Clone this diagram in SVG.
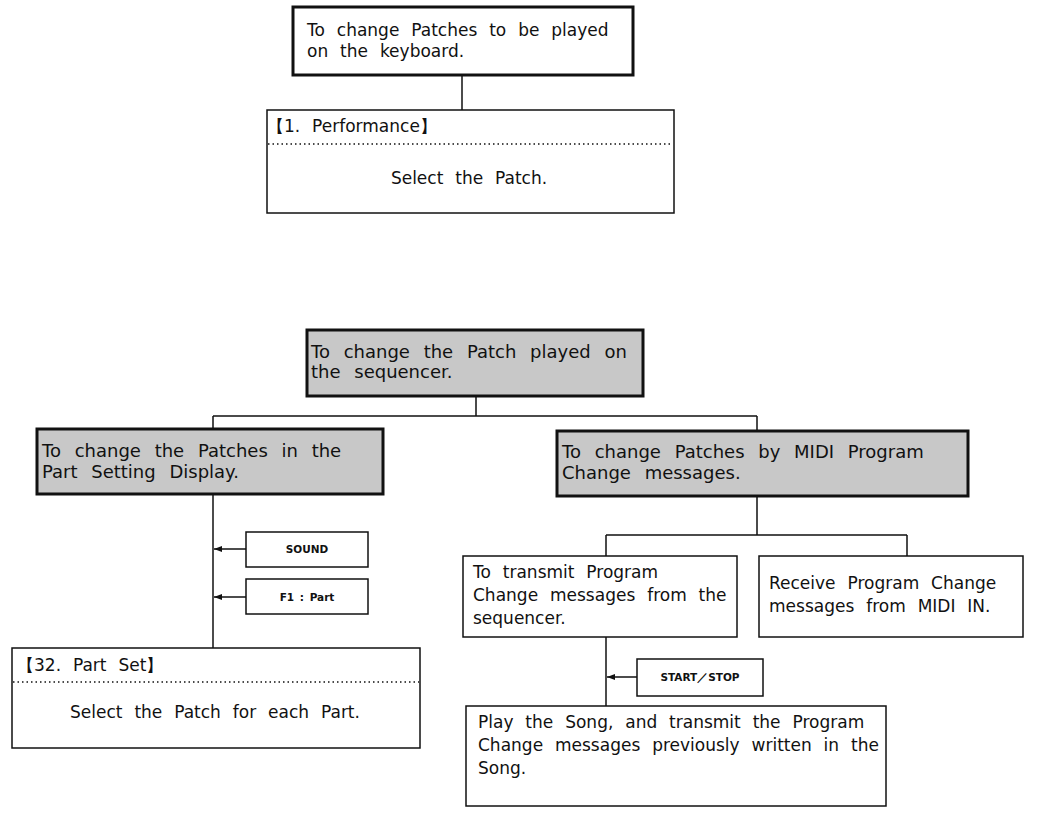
<svg xmlns="http://www.w3.org/2000/svg" width="1043" height="813" viewBox="0 0 1043 813">
<style>
text{font-family:"DejaVu Sans","Liberation Sans",Arial,sans-serif;fill:#111;}
.t{font-size:17px;word-spacing:6.5px;}
.g{font-size:18px;word-spacing:8px;}
.b{font-size:10.5px;font-weight:bold;}
.box{fill:#fff;stroke:#111;stroke-width:1.5;}
.thick{fill:#fff;stroke:#111;stroke-width:3;}
.gray{fill:#c8c8c8;stroke:#111;stroke-width:3;}
.dot{stroke:#111;stroke-width:1.5;stroke-dasharray:1.5 3;fill:none;}
.ln{stroke:#111;stroke-width:1.5;fill:none;}
</style>
<defs>
<marker id="ah" markerWidth="8" markerHeight="6" refX="8" refY="3" orient="auto" markerUnits="userSpaceOnUse">
<path d="M8,3 L0,0 L0,6 Z" fill="#111"/>
</marker>
</defs>
<g id="connectors">
<path class="ln" d="M462,75 V110"/>
<path class="ln" d="M476,396 V416 M213,416 H757 M213,416 V429 M757,416 V431"/>
<path class="ln" d="M213,494 V648"/>
<path class="ln" d="M246,549 H214" marker-end="url(#ah)"/>
<path class="ln" d="M246,597 H214" marker-end="url(#ah)"/>
<path class="ln" d="M757,496 V535 M606,535 H907 M606,535 V556 M907,535 V556"/>
<path class="ln" d="M606,637 V706"/>
<path class="ln" d="M637,677 H607" marker-end="url(#ah)"/>
</g>
<g id="n_keyboard">
<rect class="thick" x="293" y="7" width="340" height="68"/>
<text class="t" x="307" y="36">To change Patches to be played</text>
<text class="t" x="307" y="57">on the keyboard.</text>
</g>
<g id="n_performance">
<rect class="box" x="267" y="110" width="407" height="103"/>
<text class="t" x="267" y="132" word-spacing="3">【1. Performance】</text>
<path class="dot" d="M268,144 H673"/>
<text class="t" x="469" y="184" text-anchor="middle">Select the Patch.</text>
</g>
<g id="n_sequencer">
<rect class="gray" x="307" y="330" width="336" height="66"/>
<text class="g" x="311" y="358">To change the Patch played on</text>
<text class="g" x="311" y="378">the sequencer.</text>
</g>
<g id="n_partsetting">
<rect class="gray" x="37" y="429" width="346" height="65"/>
<text class="g" x="42" y="457">To change the Patches in the</text>
<text class="g" x="42" y="478">Part Setting Display.</text>
</g>
<g id="n_midi">
<rect class="gray" x="557" y="431" width="411" height="65"/>
<text class="g" x="562" y="458">To change Patches by MIDI Program</text>
<text class="g" x="562" y="479">Change messages.</text>
</g>
<g id="n_sound">
<rect class="box" x="246" y="532" width="122" height="35"/>
<text class="b" x="307" y="553" text-anchor="middle">SOUND</text>
</g>
<g id="n_f1">
<rect class="box" x="246" y="579" width="122" height="35"/>
<text class="b" x="307" y="601" text-anchor="middle" font-weight="normal" word-spacing="2">F1 : Part</text>
</g>
<g id="n_partset">
<rect class="box" x="12" y="648" width="408" height="100"/>
<text class="t" x="17" y="671" word-spacing="5">【32. Part Set】</text>
<path class="dot" d="M13,682 H419"/>
<text class="t" x="215" y="718" text-anchor="middle">Select the Patch for each Part.</text>
</g>
<g id="n_transmit">
<rect class="box" x="463" y="556" width="274" height="81"/>
<text class="t" x="473" y="578">To transmit Program</text>
<text class="t" x="473" y="601">Change messages from the</text>
<text class="t" x="473" y="624">sequencer.</text>
</g>
<g id="n_receive">
<rect class="box" x="759" y="556" width="264" height="81"/>
<text class="t" x="769" y="589">Receive Program Change</text>
<text class="t" x="769" y="612">messages from MIDI IN.</text>
</g>
<g id="n_startstop">
<rect class="box" x="637" y="659" width="126" height="37"/>
<text class="b" x="700" y="681" text-anchor="middle">START／STOP</text>
</g>
<g id="n_play">
<rect class="box" x="466" y="706" width="420" height="100"/>
<text class="t" x="478" y="728">Play the Song, and transmit the Program</text>
<text class="t" x="478" y="751" word-spacing="4.5">Change messages previously written in the</text>
<text class="t" x="478" y="774">Song.</text>
</g>
</svg>
